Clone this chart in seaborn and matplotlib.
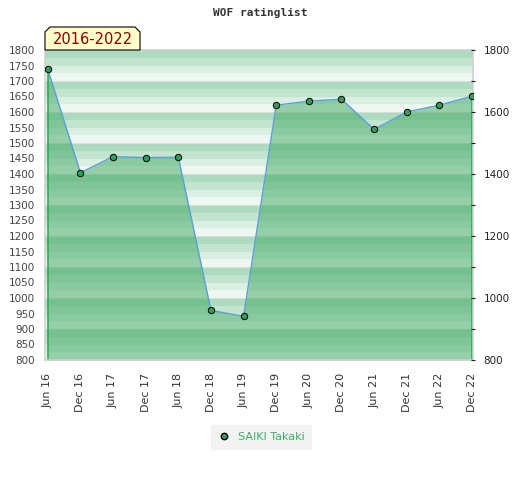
import matplotlib
matplotlib.use("Agg")
import matplotlib.pyplot as plt
import seaborn as sns
import pandas as pd
import numpy as np
from matplotlib.patches import Polygon

# data
periods = ['Jun 16', 'Dec 16', 'Jun 17', 'Dec 17', 'Jun 18', 'Dec 18', 'Jun 19',
           'Dec 19', 'Jun 20', 'Dec 20', 'Jun 21', 'Dec 21', 'Jun 22', 'Dec 22']
ratings = [1738, 1404, 1456, 1453, 1454, 960, 941,
           1622, 1635, 1641, 1544, 1600, 1622, 1651]
player = 'SAIKI Takaki'
title = 'WOF ratinglist'
span_label = '2016-2022'
left_ticks = list(range(800, 1801, 50))
right_ticks = list(range(800, 1801, 200))

df = pd.DataFrame({'period': periods, 'rating': ratings})
df['pos'] = np.arange(len(df))

sns.set_style("white")
plt.rcParams['font.family'] = ['DejaVu Sans']

fig = plt.figure(figsize=(5.2, 4.8), dpi=100)
ax = fig.add_axes([45 / 520, 1 - 360 / 480, 428 / 520, 310 / 480])

# striped background: 4 shades per 100 points
shades = ['#acdbbf', '#c3e5d0', '#d9efe2', '#eef8f2']
for base in range(800, 1800, 100):
    for k, c in enumerate(shades):
        top = base + 100 - 25 * k
        ax.axhspan(top - 25, top, color=c, lw=0, zorder=0)
for g in range(900, 1800, 100):
    ax.axhline(g, color='#dcdcdc', lw=0.8, zorder=0.5)

# area under the rating line
ax.fill_between(df['pos'], df['rating'], 800, color='#3da75f', alpha=0.5, lw=0, zorder=1)
ax.plot([df['pos'].iloc[0]] * 2, [800, df['rating'].iloc[0]], color='#2eaa5a', lw=1.2, zorder=2)
ax.plot([df['pos'].iloc[-1]] * 2, [800, df['rating'].iloc[-1]], color='#2eaa5a', lw=1.2, zorder=2)

sns.lineplot(data=df, x='pos', y='rating', ax=ax, color='#5b9fd6', lw=1.0, zorder=3,
             marker='o', markersize=4.6, markerfacecolor='#2e9e5b', markeredgecolor='black',
             markeredgewidth=0.7, label=player, legend=False)

ax.set_xlim(-0.085, len(df) - 1 + 0.03)
ax.set_ylim(800, 1800)
ax.set_xlabel('')
ax.set_ylabel('')
ax.set_xticks(df['pos'])
ax.set_xticklabels(df['period'], rotation=90, fontsize=8, color='#333333')
ax.set_yticks(left_ticks)
ax.set_yticklabels([str(t) for t in left_ticks], fontsize=7.5, color='#444444')
ax.tick_params(axis='x', length=0, pad=9)
ax.tick_params(axis='y', length=0, pad=7)
for s in ax.spines.values():
    s.set_color('#d0d0d0')
    s.set_linewidth(1.2)

ax2 = ax.twinx()
ax2.set_ylim(800, 1800)
ax2.set_yticks(right_ticks)
ax2.set_yticks(range(900, 1800, 200), minor=True)
ax2.set_yticklabels([str(t) for t in right_ticks], fontsize=7.5, color='#222222')
ax2.tick_params(axis='y', which='both', length=3, width=0.8, color='#222222', direction='inout', pad=6)
for s in ax2.spines.values():
    s.set_visible(False)

fig.text(0.5, 1 - 13 / 480, title, ha='center', va='center', fontsize=8,
         family='DejaVu Sans Mono', fontweight='bold', color='#333333')

# label tab with clipped top corners
px = lambda x, y: (x / 520, 1 - y / 480)
tab = Polygon([px(45, 50), px(45, 32), px(50, 27), px(135, 27), px(140, 32), px(140, 50)],
              closed=True, transform=fig.transFigure, facecolor='#ffffcc',
              edgecolor='black', lw=0.8, zorder=5)
fig.patches.append(tab)
fig.text(92.5 / 520, 1 - 40 / 480, span_label, ha='center', va='center',
         fontsize=10.5, color='#8b0000', zorder=6)

leg = fig.legend(handles=[plt.Line2D([], [], ls='none', marker='o', markersize=4.6,
                                     markerfacecolor='#2e9e5b', markeredgecolor='black')],
                 labels=[player], loc='center', bbox_to_anchor=(261 / 520, 1 - 437 / 480),
                 frameon=True, fancybox=False, facecolor='#f0f0f0', edgecolor='#f0f0f0',
                 fontsize=8, handletextpad=0.6, borderpad=0.6, handlelength=1.2)
for t in leg.get_texts():
    t.set_color('#3cae62')

fig.savefig('out.png', dpi=100)
